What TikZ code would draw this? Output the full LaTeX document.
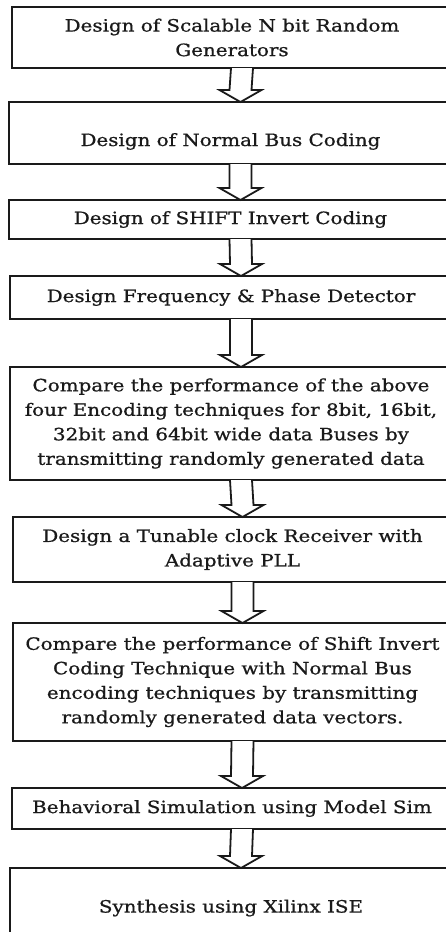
\documentclass[tikz,border=0pt]{standalone}
\usepackage{fontspec}
\setmainfont[FakeStretch=1.17,FakeBold=0.8]{DejaVu Serif}
\usetikzlibrary{calc}
\definecolor{ink}{HTML}{1A1A1A}
\tikzset{
  stepbox/.style={draw=ink, line width=2.6pt, fill=white, rectangle, inner sep=0pt, outer sep=0pt,
    anchor=north west, align=center, text=ink,
    font=\fontsize{17}{24.5}\selectfont},
  arrowline/.style={draw=ink, line width=1.8pt, fill=white, line join=miter},
}
\newcommand\flowarrow[2]{%
  \coordinate (s) at ($(#1.south)+(10,0)$);
  \coordinate (t) at ($(#2.north)+(10,0)$);
  \filldraw[arrowline] ($(s)+(-11,0)$) -- ($(t)+(-11,-12)$) -- ($(t)+(-21,-12)$) -- (t)
     -- ($(t)+(21,-12)$) -- ($(t)+(11,-12)$) -- ($(s)+(11,0)$);
}
\begin{document}
\begin{tikzpicture}[x=1pt,y=-1pt]
\useasboundingbox (0,0) rectangle (446,932);
\clip (0,0) rectangle (446,932);
\fill[white] (0,0) rectangle (446,932);
\node[stepbox, minimum width=440, minimum height=61] (b1) at (12,7) {Design of Scalable N bit Random\\Generators};
\node[stepbox, minimum width=443, minimum height=62, text height=30pt, text depth=4pt] (b2) at (9,102) {Design of Normal Bus Coding};
\node[stepbox, minimum width=443, minimum height=39] (b3) at (9,200) {Design of SHIFT Invert Coding};
\node[stepbox, minimum width=442, minimum height=43] (b4) at (10,276) {Design Frequency \& Phase Detector};
\node[stepbox, minimum width=442, minimum height=113] (b5) at (10,367) {Compare the performance of the above\\four Encoding techniques for 8bit, 16bit,\\32bit and 64bit wide data Buses by\\transmitting randomly generated data};
\node[stepbox, minimum width=439, minimum height=65] (b6) at (13,517) {Design a Tunable clock Receiver with\\Adaptive PLL};
\node[stepbox, minimum width=439, minimum height=118] (b7) at (13,623) {Compare the performance of Shift Invert\\Coding Technique with Normal Bus\\encoding techniques by transmitting\\randomly generated data vectors.};
\node[stepbox, minimum width=440, minimum height=41] (b8) at (12,788) {Behavioral Simulation using Model Sim};
\node[stepbox, minimum width=442, minimum height=80] (b9) at (10,868) {Synthesis using Xilinx ISE};
\flowarrow{b1}{b2}
\flowarrow{b2}{b3}
\flowarrow{b3}{b4}
\flowarrow{b4}{b5}
\flowarrow{b5}{b6}
\flowarrow{b6}{b7}
\flowarrow{b7}{b8}
\flowarrow{b8}{b9}
\end{tikzpicture}
\end{document}
